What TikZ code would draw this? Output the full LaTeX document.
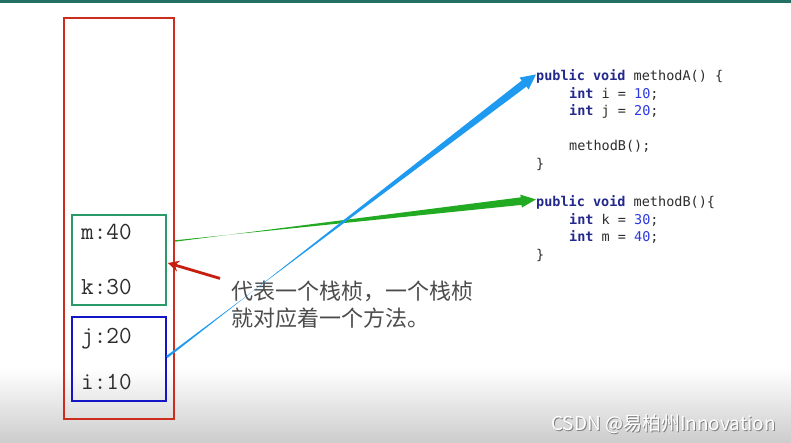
\documentclass[tikz,border=0pt]{standalone}
\usepackage{fontspec}
\usetikzlibrary{calc,arrows.meta}
\newfontfamily\cjk{Noto Sans CJK SC}
\newfontfamily\codemono{DejaVu Sans Mono}
\definecolor{topteal}{RGB}{36,112,100}
\definecolor{stackred}{RGB}{205,45,30}
\definecolor{framegreen}{RGB}{40,155,105}
\definecolor{frameblue}{RGB}{20,20,200}
\definecolor{arrowred}{RGB}{200,30,15}
\definecolor{arrowgreen}{RGB}{35,170,35}
\definecolor{arrowblue}{RGB}{30,155,240}
\definecolor{kwblue}{RGB}{35,40,140}
\definecolor{numblue}{RGB}{45,55,225}
\definecolor{txtgray}{RGB}{45,45,45}
\tikzset{
  stackbox/.style={draw=stackred,line width=1.8pt,inner sep=0pt,minimum width=110pt,minimum height=401pt},
  framebox/.style={line width=1.8pt,inner sep=0pt,minimum width=94pt},
  varlabel/.style={anchor=base west,inner sep=0pt,text=txtgray,font=\ttfamily\fontsize{24.5}{24.5}\selectfont},
  codeline/.style={anchor=base west,inner sep=0pt,text=txtgray,font=\codemono\fontsize{13.5}{13.5}\selectfont},
  cjklabel/.style={anchor=base west,inner sep=0pt,text=txtgray!85,font=\cjk\fontsize{22}{22}\selectfont},
}
\newcommand\kw[1]{\textcolor{kwblue}{\bfseries #1}}
\newcommand\nm[1]{\textcolor{numblue}{#1}}
% tapered arrow: #1 tail, #2 tip, #3 colour, #4 tail half-width, #5 end half-width, #6 head length, #7 head half-width
\newcommand\taperarrow[7]{%
  \coordinate (tmpH) at ($(#2)!#6!(#1)$);
  \fill[#3] ($(#1)!#4!90:(#2)$) -- ($(tmpH)!#5!-90:(#2)$) -- ($(tmpH)!#7!-90:(#2)$) -- (#2)
    -- ($(tmpH)!#7!90:(#2)$) -- ($(tmpH)!#5!90:(#2)$) -- ($(#1)!#4!-90:(#2)$) -- cycle;
}
\begin{document}
\begin{tikzpicture}[x=1pt,y=-1pt]
\useasboundingbox (0,0) rectangle (791,443);
\fill[white] (0,0) rectangle (791,443);
\shade[top color=white,bottom color=black!20] (0,368) rectangle (791,443);
\fill[topteal] (0,0) rectangle (791,3);

% stack and frames
\node[stackbox] (stack) at (119,218.5) {};
\node[framebox,draw=framegreen,minimum height=90pt] (frameB) at (119,260) {};
\node[framebox,draw=frameblue,minimum height=84pt] (frameA) at (119,359) {};

\node[varlabel] (m) at (81,240) {m:40};
\node[varlabel] (k) at (81,294) {k:30};
\node[varlabel] (j) at (81,343) {j:20};
\node[varlabel] (i) at (81,389) {i:10};

% code
\node[codeline] (codeA) at (536,81) {\kw{public void} methodA() \{};
\node[codeline] (a1) at (569,98.5) {\kw{int} i = \nm{10};};
\node[codeline] (a2) at (569,116) {\kw{int} j = \nm{20};};
\node[codeline] (a3) at (569,151) {methodB();};
\node[codeline] (a4) at (536,168.5) {\}};
\node[codeline] (codeB) at (536,207) {\kw{public void} methodB()\{};
\node[codeline] (b1) at (569,224.5) {\kw{int} k = \nm{30};};
\node[codeline] (b2) at (569,242) {\kw{int} m = \nm{40};};
\node[codeline] (b3) at (536,259.5) {\}};

% label
\node[cjklabel] (lab1) at (231,299.5) {代表一个栈桢，一个栈桢};
\node[cjklabel] (lab2) at (231,326.5) {就对应着一个方法。};

% connectors
\coordinate (gtail) at ($(stack.east)+(0,22.5)$);
\coordinate (gtip) at ($(codeB.west)+(0,-3.5)$);
\coordinate (btail) at ($(frameA.east)+(0,-2)$);
\coordinate (btip) at ($(codeA.west)+(0,-2.5)$);
\coordinate (rtail) at ($(lab1.west)+(-11,-13)$);
\coordinate (rtip) at ($(frameB.east)+(1,3)$);

\taperarrow{gtail}{gtip}{arrowgreen}{0.7pt}{3.8pt}{15pt}{6.5pt}
\taperarrow{btail}{btip}{arrowblue}{1.2pt}{3.8pt}{15pt}{7.5pt}
\draw[arrowred,line width=2.8pt,-{Stealth[length=11pt,width=11pt]}] (rtail) -- (rtip);

% watermark
\node[anchor=base east,inner sep=0pt,text=black!50,font=\cjk\fontsize{19}{19}\selectfont] (wm0) at (777,431) {CSDN @易柏州Innovation};
\node[anchor=base east,inner sep=0pt,text=white,font=\cjk\fontsize{19}{19}\selectfont] (wm) at (776,430) {CSDN @易柏州Innovation};
\end{tikzpicture}
\end{document}
